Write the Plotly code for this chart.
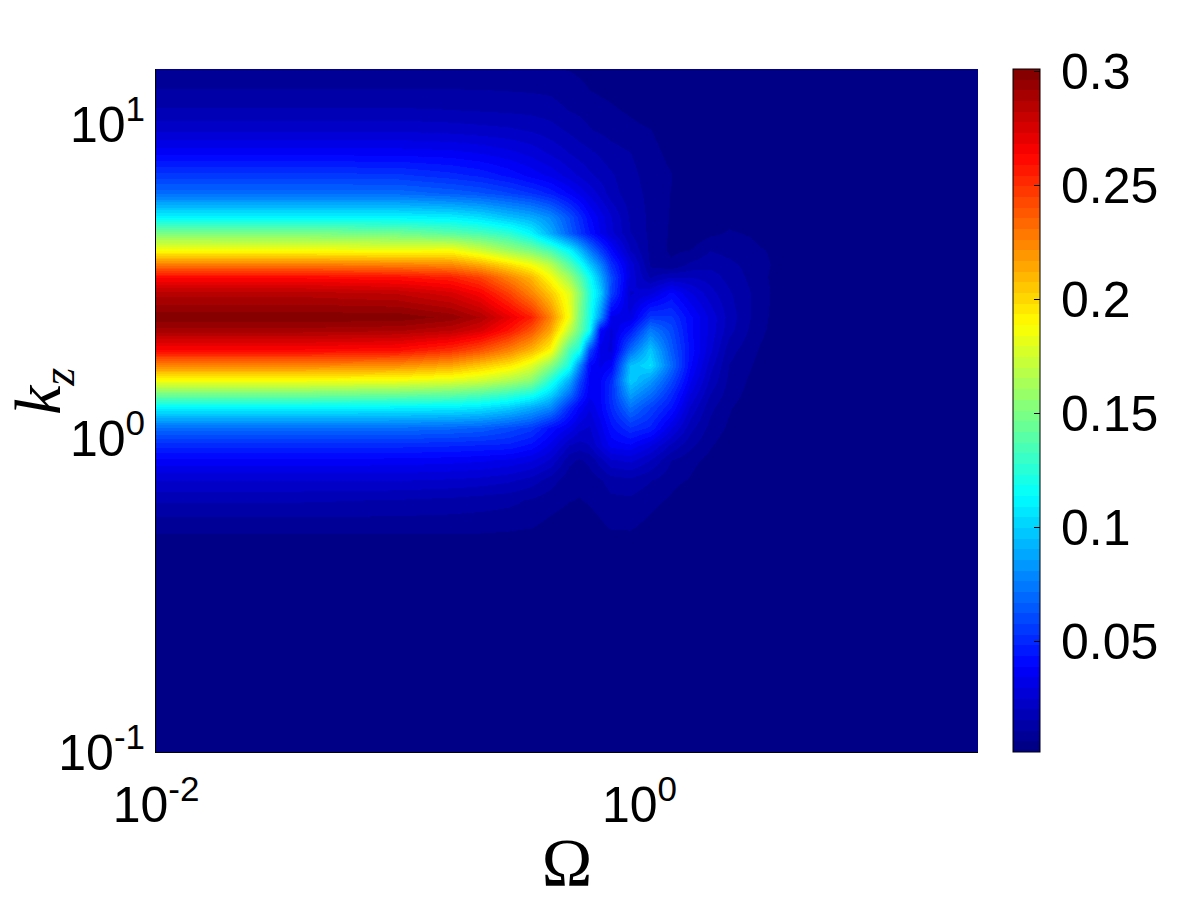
import plotly.graph_objects as go

OMEGA = [0.01, 0.04, 0.10, 0.166, 0.219, 0.288, 0.355, 0.427, 0.513, 0.562, 0.617, 0.684, 0.759, 0.912, 1.10, 1.35, 1.62, 1.95, 2.34, 2.88, 3.47, 4.57, 25.0]
KZ = [15.0, 12.9, 11.1, 9.57, 8.09, 6.89, 6.04, 5.06, 4.50, 3.97, 3.56, 3.26, 2.90, 2.43, 2.21, 1.91, 1.71, 1.53, 1.37, 1.26, 1.08, 0.95, 0.851, 0.736, 0.635, 0.521, 0.456, 0.409, 0.1]
VALUES = [
 [.0058,.0058,.0058,.0058,.0058,.006,.0062,.0062,.0058,.0054,.005,.0045,.004,.003,.002,.0015,.0013,.0013,.0013,.0013,.0013,.0013,.0013],
 [.011,.011,.011,.011,.0108,.0105,.0102,.0098,.0078,.0068,.006,.0052,.0045,.003,.002,.0014,.0013,.0013,.0013,.0013,.0013,.0013,.0013],
 [.016,.016,.016,.0155,.015,.0145,.014,.013,.0105,.0098,.009,.0078,.0068,.0052,.0033,.002,.0013,.0013,.0013,.0013,.0013,.0013,.0013],
 [.024,.024,.024,.023,.022,.021,.0195,.0175,.0145,.0128,.011,.01,.009,.0075,.0062,.003,.0015,.0013,.0013,.0013,.0013,.0013,.0013],
 [.0375,.0375,.037,.036,.034,.031,.028,.024,.02,.018,.0165,.0145,.0125,.0108,.0078,.0045,.002,.0013,.0013,.0013,.0013,.0013,.0013],
 [.055,.055,.054,.05,.047,.042,.037,.033,.027,.024,.021,.0185,.016,.012,.0088,.0062,.002,.0013,.0013,.0013,.0013,.0013,.0013],
 [.07,.07,.07,.066,.063,.058,.053,.047,.038,.033,.028,.023,.0175,.0125,.0095,.0058,.0018,.0013,.0013,.0013,.0013,.0013,.0013],
 [.1125,.1125,.112,.11,.105,.096,.09,.08,.062,.051,.04,.032,.025,.0145,.0095,.0055,.0018,.0025,.0045,.003,.0014,.0013,.0013],
 [.15,.15,.147,.14,.135,.127,.1125,.09,.066,.055,.044,.034,.026,.0155,.0095,.0052,.0022,.005,.0065,.0055,.002,.0013,.0013],
 [.1875,.187,.185,.1875,.175,.16,.15,.135,.113,.095,.075,.056,.04,.02,.0095,.005,.006,.0105,.009,.0075,.0055,.0015,.0013],
 [.23,.23,.228,.225,.215,.2,.1875,.17,.14,.122,.10,.078,.052,.028,.01,.007,.012,.014,.012,.009,.006,.0017,.0013],
 [.2625,.2625,.26,.255,.245,.225,.21,.1875,.16,.14,.118,.09,.06,.028,.015,.02,.02,.018,.0135,.0095,.0055,.0017,.0013],
 [.285,.285,.282,.275,.265,.245,.225,.205,.18,.155,.125,.10,.058,.024,.028,.04,.03,.022,.016,.0105,.006,.002,.0013],
 [.30,.30,.30,.295,.287,.27,.255,.225,.185,.15,.122,.082,.033,.03,.055,.054,.04,.028,.018,.0105,.0055,.0018,.0013],
 [.29,.29,.288,.283,.275,.258,.24,.215,.17,.145,.118,.04,.028,.045,.075,.06,.04,.028,.017,.0095,.005,.0016,.0013],
 [.2625,.2625,.26,.25,.24,.225,.21,.19,.135,.12,.06,.032,.028,.07,.098,.065,.042,.026,.0125,.0075,.003,.0013,.0013],
 [.225,.225,.222,.215,.205,.195,.18,.155,.12,.08,.04,.033,.038,.095,.105,.07,.04,.022,.0105,.0062,.002,.0013,.0013],
 [.1875,.187,.185,.18,.175,.165,.155,.125,.09,.06,.038,.038,.05,.10,.085,.06,.035,.019,.0095,.005,.0016,.0013,.0013],
 [.145,.145,.143,.14,.135,.127,.118,.10,.07,.05,.035,.038,.052,.085,.07,.05,.029,.015,.0082,.004,.0013,.0013,.0013],
 [.1125,.1125,.111,.11,.107,.10,.09,.08,.05,.038,.03,.0375,.05,.072,.058,.044,.024,.012,.0065,.003,.0013,.0013,.0013],
 [.07,.07,.07,.068,.066,.06,.055,.042,.033,.026,.024,.032,.042,.052,.047,.03,.017,.009,.005,.002,.0013,.0013,.0013],
 [.05,.05,.05,.049,.048,.047,.042,.033,.02,.018,.02,.028,.036,.038,.03,.019,.012,.0065,.003,.0014,.0013,.0013,.0013],
 [.0375,.0375,.037,.036,.035,.033,.03,.024,.012,.01,.012,.018,.024,.026,.02,.0107,.0075,.0045,.002,.0013,.0013,.0013,.0013],
 [.025,.025,.025,.024,.023,.021,.018,.013,.0075,.0068,.008,.01,.013,.014,.011,.0075,.0055,.002,.0013,.0013,.0013,.0013,.0013],
 [.016,.016,.015,.014,.013,.012,.01,.008,.0062,.0058,.0065,.008,.0095,.0098,.0075,.0052,.002,.0013,.0013,.0013,.0013,.0013,.0013],
 [.0075,.0075,.0075,.0075,.0075,.007,.0062,.0045,.003,.003,.0038,.005,.0065,.0065,.0045,.002,.0013,.0013,.0013,.0013,.0013,.0013,.0013],
 [.0035,.0035,.0035,.0035,.003,.0025,.002,.0015,.0013,.0013,.0015,.002,.003,.0035,.002,.0013,.0013,.0013,.0013,.0013,.0013,.0013,.0013],
 [.0013,.0013,.0013,.0013,.0013,.0013,.0013,.0013,.0013,.0013,.0013,.0013,.0014,.0018,.0014,.0013,.0013,.0013,.0013,.0013,.0013,.0013,.0013],
 [.0013]*23,
]
CB_TICKS = [0.05, 0.1, 0.15, 0.2, 0.25, 0.3]
CB_LABELS = ["\u20090.05", "\u20090.1", "\u20090.15", "\u20090.2", "\u20090.25", "\u20090.3"]
X_TICKS = [0.01, 1]
X_LABELS = ["10<sup>-2</sup>", "10<sup>0</sup>"]
Y_TICKS = [0.1, 1, 10]
Y_LABELS = ["10<sup>-1</sup>", "10<sup>0</sup>", "10<sup>1</sup>"]

def jet(t):
    r = min(1, max(0, min(4*t-1.5, 4.5-4*t)))
    g = min(1, max(0, min(4*t-0.5, 3.5-4*t)))
    b = min(1, max(0, min(4*t+0.5, 2.5-4*t)))
    return f"rgb({round(r*255)},{round(g*255)},{round(b*255)})"

N = 64
scale = []
for i in range(N):
    c = jet((i + 0.5) / N)
    scale.append([i / N, c])
    scale.append([(i + 1) / N, c])

fig = go.Figure(go.Heatmap(
    x=OMEGA, y=KZ[::-1], z=VALUES[::-1], zsmooth="best",
    colorscale=scale, zmin=0.0013, zmax=0.3013,
    colorbar=dict(
        x=(1013-156)/822, xanchor="left", y=0, yanchor="bottom",
        lenmode="fraction", len=1, thicknessmode="pixels", thickness=27, xpad=0, ypad=0,
        outlinecolor="black", outlinewidth=1,
        tickvals=CB_TICKS, ticktext=CB_LABELS, ticks="inside", ticklen=6,
        tickcolor="black", tickfont=dict(family="Liberation Sans", size=50, color="black"),
    ),
))
fig.update_layout(
    width=1200, height=900, margin=dict(l=156, r=222, t=69, b=148),
    paper_bgcolor="white", plot_bgcolor="white",
    font=dict(family="Liberation Sans", size=50, color="black"),
    xaxis=dict(type="log", range=[-2, 1.4], tickmode="array", tickvals=X_TICKS, ticktext=X_LABELS,
               showgrid=False, zeroline=False, showline=True, linecolor="black", linewidth=1,
               ticks="outside", ticklen=9, tickcolor="rgba(0,0,0,0)", tickangle=0, automargin=False,
               title=dict(text="Ω", font=dict(family="Liberation Serif", size=68, color="black"), standoff=8)),
    yaxis=dict(type="log", range=[-1, 1.176], tickmode="array", tickvals=Y_TICKS, ticktext=Y_LABELS,
               showgrid=False, zeroline=False, showline=True, linecolor="black", linewidth=1,
               ticks="", tickangle=0, automargin=False),
    annotations=[dict(text="<i>k<sub>z</sub></i>", xref="paper", yref="paper",
                      x=-156/822+42/822, y=(752-392)/683, xanchor="center", yanchor="middle",
                      textangle=-90, showarrow=False,
                      font=dict(family="Liberation Serif", size=66, color="black"))],
)
fig.write_html("out.html", config={"displayModeBar": False}, post_script="document.body.style.margin='0';")
